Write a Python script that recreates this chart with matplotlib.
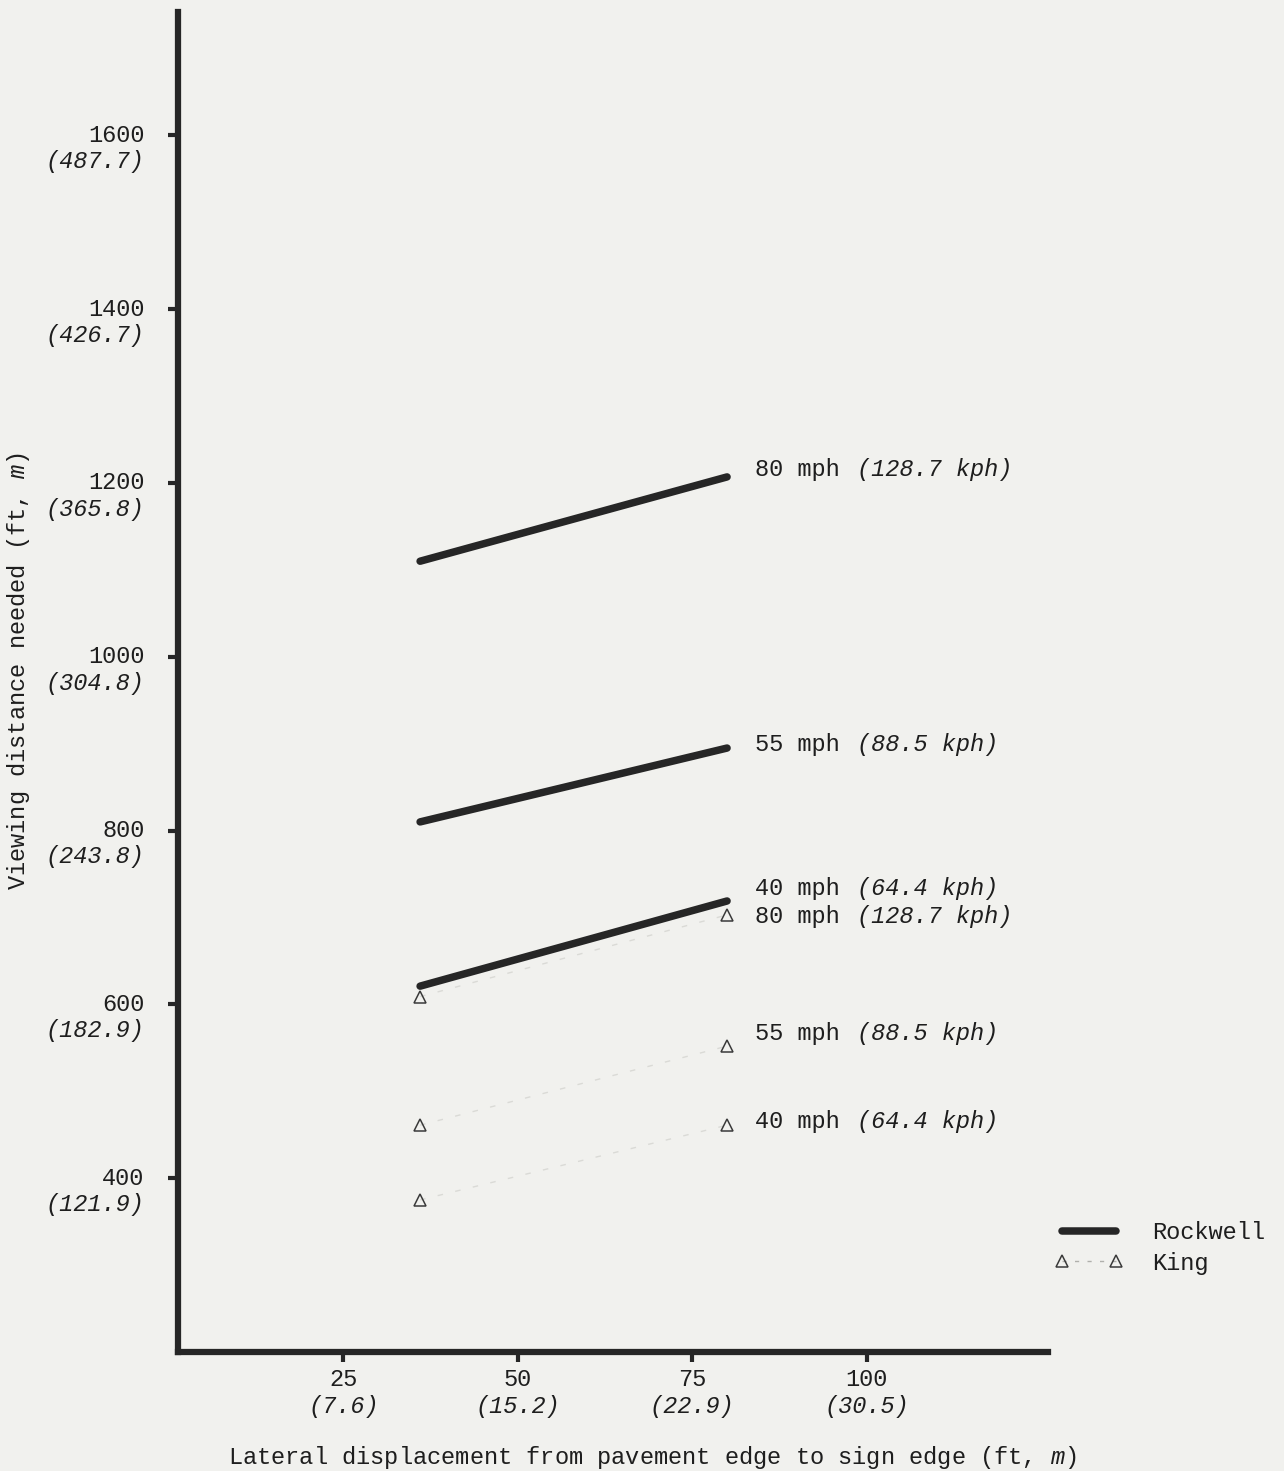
import matplotlib.pyplot as plt
from matplotlib.lines import Line2D
from matplotlib.transforms import offset_copy, blended_transform_factory

plt.rcParams["font.family"] = ["Liberation Mono", "DejaVu Sans Mono"]
plt.rcParams["mathtext.fontset"] = "custom"
plt.rcParams["mathtext.rm"] = "Liberation Mono"
plt.rcParams["mathtext.it"] = "Liberation Mono:italic"

TEXT = "#1e1e1e"
INK = "#262626"
BG = "#f1f1ee"

# lateral displacement (ft)
x_pts = [36, 80]

# Rockwell viewing distance (ft)
rockwell = {
    "80": [1110, 1207],
    "55": [810, 895],
    "40": [621, 719],
}
# King viewing distance (ft)
king = {
    "80": [609, 703],
    "55": [461, 552],
    "40": [375, 461],
}

speed_kph = {"80": "128.7", "55": "88.5", "40": "64.4"}

# label anchors (ft) for right-hand annotations
rock_label_y = {"80": 1216, "55": 899, "40": 733}
king_label_y = {"80": 701, "55": 566, "40": 465}
label_x = 84

y_ticks = [400, 600, 800, 1000, 1200, 1400, 1600]
y_ticks_m = ["121.9", "182.9", "243.8", "304.8", "365.8", "426.7", "487.7"]
x_ticks = [25, 50, 75, 100]
x_ticks_m = ["7.6", "15.2", "22.9", "30.5"]

fig = plt.figure(figsize=(12.84, 14.71), dpi=100, facecolor=BG)
ax = fig.add_axes([178 / 1284, 119 / 1471, (1048 - 178) / 1284, (1352 - 12) / 1471])
ax.set_facecolor(BG)
ax.set_xlim(1.3, 126)
ax.set_ylim(200, 1742)

for s in ["top", "right"]:
    ax.spines[s].set_visible(False)
for s in ["left", "bottom"]:
    ax.spines[s].set_linewidth(4.5)
    ax.spines[s].set_color(INK)

ax.set_xticks(x_ticks)
ax.set_yticks(y_ticks)
ax.set_xticklabels([])
ax.set_yticklabels([])
ax.tick_params(axis="both", direction="out", length=7, width=3, color=INK)

fs = 17

# two-line tick labels: ft on top, metres in italic below
ytr = blended_transform_factory(ax.transAxes, ax.transData)
for v, m in zip(y_ticks, y_ticks_m):
    t = offset_copy(ytr, fig=fig, x=-24, y=0, units="points")
    ax.text(0, v, str(v), transform=t, ha="right", va="center",
            fontsize=fs, color=TEXT)
    t2 = offset_copy(ytr, fig=fig, x=-24, y=-19, units="points")
    ax.text(0, v, f"({m})", transform=t2, ha="right", va="center",
            fontsize=fs, color=TEXT, style="italic")

xtr = blended_transform_factory(ax.transData, ax.transAxes)
for v, m in zip(x_ticks, x_ticks_m):
    t = offset_copy(xtr, fig=fig, x=0, y=-20, units="points")
    ax.text(v, 0, str(v), transform=t, ha="center", va="center",
            fontsize=fs, color=TEXT)
    t2 = offset_copy(xtr, fig=fig, x=0, y=-39, units="points")
    ax.text(v, 0, f"({m})", transform=t2, ha="center", va="center",
            fontsize=fs, color=TEXT, style="italic")

# data
for k, ys in rockwell.items():
    ax.plot(x_pts, ys, color=INK, lw=5.4, solid_capstyle="round", zorder=3)
for k, ys in king.items():
    ax.plot(x_pts, ys, color="#dadad6", lw=1, ls=(0, (4, 9)), zorder=2)
    ax.plot(x_pts, ys, ls="none", marker="^", ms=8, mfc="none",
            mec="#3a3a3a", mew=1.1, zorder=3)


def speed_label(y, sp):
    t = offset_copy(ax.transData, fig=fig, x=0, y=0, units="points")
    ax.text(label_x, y, f"{sp} mph", transform=t, ha="left", va="center",
            fontsize=fs, color=TEXT)
    t2 = offset_copy(ax.transData, fig=fig, x=7 * 0.6 * fs + 2, y=0, units="points")
    ax.text(label_x, y, f"({speed_kph[sp]} kph)", transform=t2, ha="left",
            va="center", fontsize=fs, color=TEXT, style="italic")


for k in rockwell:
    speed_label(rock_label_y[k], k)
for k in king:
    speed_label(king_label_y[k], k)

ax.set_ylabel(r"Viewing distance needed (ft, $\mathit{m}$)", fontsize=fs,
              color=TEXT)
ax.yaxis.set_label_coords(-0.168, 0.508)
ax.set_xlabel(r"Lateral displacement from pavement edge to sign edge (ft, $\mathit{m}$)",
              fontsize=fs, color=TEXT)
ax.xaxis.set_label_coords(0.545, -0.069)

handles = [
    Line2D([], [], color=INK, lw=5.4, solid_capstyle="round"),
    Line2D([], [], color="#b0b0ac", lw=1, ls=(0, (3, 6)), marker="^", ms=8,
           mfc="none", mec="#3a3a3a", mew=1.1),
]
leg = ax.legend(handles, ["Rockwell", "King"], loc="center left",
                bbox_to_anchor=(1055 / 1284, 1 - 1248 / 1471),
                bbox_transform=fig.transFigure, frameon=False, fontsize=fs,
                handlelength=2.9, handletextpad=1.2, numpoints=2,
                labelspacing=0.3, borderaxespad=0, borderpad=0)
for txt in leg.get_texts():
    txt.set_color(TEXT)

fig.savefig("out.png", dpi=100, facecolor=BG)
